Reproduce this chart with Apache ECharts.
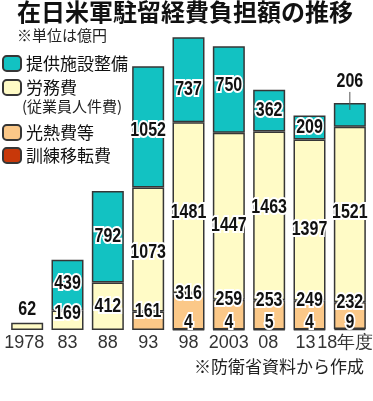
<!DOCTYPE html>
<html><head><meta charset="utf-8">
<script src="https://cdn.jsdelivr.net/npm/echarts@6/dist/echarts.min.js"></script>
<style>html,body{margin:0;padding:0;background:#fff}#c{width:373px;height:401px}</style>
</head><body><div id="c"></div>
<script>
const years = ['1978','83','88','93','98','2003','08','13','18年度'];
const facility = [0, 439, 792, 1052, 737, 750, 362, 209, 206];      // 提供施設整備
const labor = [62, 169, 412, 1073, 1481, 1447, 1463, 1397, 1521];  // 労務費
const utilities = [0, 0, 0, 161, 316, 259, 253, 249, 232];         // 光熱費等
const training = [0, 0, 0, 0, 4, 4, 5, 4, 9];                       // 訓練移転費

// label layout tweaks (pixels), kept apart from the data
const laborLabelShift = [-13, -7, 0, 3, 5, 9, -8, 9, -2];
const facilityLabelShift = [0, -2, 0, 4, 10, -4, 0, 0, 0];
const tickNudgeLeft = [6, 0, 0, 0, 0, 0, 2, 8, 9];

const JP_FONT = '"Noto Sans CJK JP", sans-serif';
const NUM_FONT = 'bold 20px "Liberation Sans", sans-serif';
const TICK_FONT = '"Liberation Sans", sans-serif';
const C_TEAL = '#12c2c2', C_YEL = '#fffbc6', C_ORG = '#fbc888', C_RED = '#c8380a';
const BORDER = {borderColor: '#363636', borderWidth: 1.5};
const last = years.length - 1;

function numText(txt, x, y) {
  return {
    type: 'text', x: x, y: y, scaleX: 0.8, z2: 10,
    style: {text: String(txt), x: 0, y: 0, font: NUM_FONT, fill: '#111',
            stroke: '#fff', lineWidth: 4, align: 'center', verticalAlign: 'middle'}
  };
}

function renderLabels(params, api) {
  const i = api.value(0);
  const x = api.coord([i, 0])[0];
  const yAt = v => api.coord([i, v])[1];
  const r = training[i], o = utilities[i], l = labor[i], f = facility[i];
  const kids = [];
  if (r) kids.push(numText(r, x, yAt(0) - 8));
  if (o) kids.push(numText(o, x, yAt(r + o)));
  if (l) {
    if (i === 0) kids.push(numText(l, x, yAt(r + o + l) + laborLabelShift[i]));
    else kids.push(numText(l, x, yAt(r + o + l / 2) + laborLabelShift[i]));
  }
  if (f) {
    if (i === last) {
      const top = yAt(r + o + l + f);
      kids.push({type: 'line', z2: 9, shape: {x1: x, y1: top - 11, x2: x, y2: top + 7},
                 style: {stroke: '#555', lineWidth: 1}});
      kids.push(numText(f, x, top - 21));
    } else {
      kids.push(numText(f, x, yAt(r + o + l + f / 2) + facilityLabelShift[i]));
    }
  }
  return {type: 'group', children: kids};
}

const toBar = arr => arr.map(v => v ? v : '-');

const tickRich = {};
tickNudgeLeft.forEach(n => {
  tickRich['n' + n] = {fontFamily: TICK_FONT, fontSize: 18, color: '#333', padding: [0, n, 0, 0]};
});

const chart = echarts.init(document.getElementById('c'), null, {renderer: 'canvas'});
const legendBase = {
  orient: 'vertical', left: 2, padding: 0, itemWidth: 18, itemHeight: 15, itemGap: 0,
  textStyle: {fontFamily: JP_FONT, fontSize: 17, color: '#111'},
  selectedMode: false
};
chart.setOption({
  animation: false,
  title: {
    text: '在日米軍駐留経費負担額の推移', left: 12, top: -5,
    textStyle: {fontFamily: JP_FONT, fontSize: 24, fontWeight: 'bold', color: '#111'}
  },
  legend: [
    Object.assign({}, legendBase, {top: 55, data: ['提供施設整備']}),
    Object.assign({}, legendBase, {top: 79, data: ['労務費']}),
    Object.assign({}, legendBase, {top: 124, data: ['光熱費等']}),
    Object.assign({}, legendBase, {top: 147, data: ['訓練移転費']})
  ],
  graphic: [
    {type: 'text', left: 17, top: 28, style: {text: '※単位は億円', font: '15px ' + JP_FONT, fill: '#222'}},
    {type: 'text', left: 22, top: 99, style: {text: '(従業員人件費)', font: '15px ' + JP_FONT, fill: '#222'}},
    {type: 'text', right: 9, top: 358, style: {text: '※防衛省資料から作成', font: '17px ' + JP_FONT, fill: '#222'}}
  ],
  grid: {left: 7, right: 3, top: 30, bottom: 71, containLabel: false, outerBoundsMode: 'none'},
  xAxis: {
    type: 'category', data: years,
    axisLine: {show: false}, axisTick: {show: false},
    axisLabel: {
      fontFamily: TICK_FONT, fontSize: 18, color: '#333', margin: 4, interval: 0,
      formatter: (v, idx) => '{n' + tickNudgeLeft[idx] + '|' + v + '}',
      rich: tickRich
    }
  },
  yAxis: {type: 'value', min: 0, max: 2600, show: false, splitLine: {show: false}},
  series: [
    {name: '訓練移転費', type: 'bar', stack: 'a', barWidth: 32, data: toBar(training),
     itemStyle: Object.assign({color: C_RED}, BORDER)},
    {name: '光熱費等', type: 'bar', stack: 'a', barWidth: 32, data: toBar(utilities),
     itemStyle: Object.assign({color: C_ORG}, BORDER)},
    {name: '労務費', type: 'bar', stack: 'a', barWidth: 32, data: toBar(labor),
     itemStyle: Object.assign({color: C_YEL}, BORDER)},
    {name: '提供施設整備', type: 'bar', stack: 'a', barWidth: 32, data: toBar(facility),
     itemStyle: Object.assign({color: C_TEAL}, BORDER)},
    {name: 'labels', type: 'custom', silent: true, z: 10,
     data: years.map((y, i) => [i, 0]), encode: {x: 0, y: 1},
     renderItem: renderLabels}
  ]
});
</script></body></html>
